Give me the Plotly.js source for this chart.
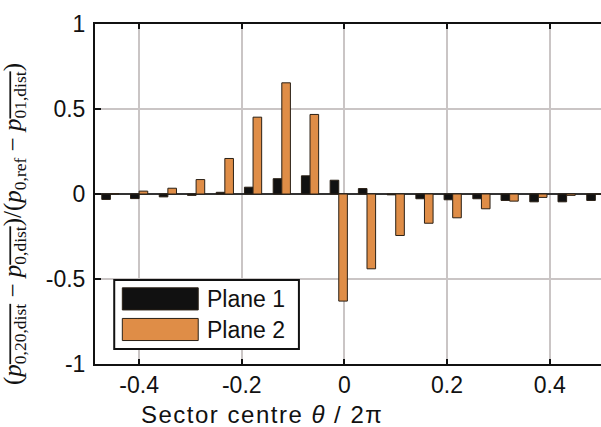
<!DOCTYPE html>
<html>
<head>
<meta charset="utf-8">
<script src="https://cdn.plot.ly/plotly-3.0.1.min.js"></script>
<style>
html,body{margin:0;padding:0;background:#fff;overflow:hidden;}
#chart{width:601px;height:427px;}
</style>
</head>
<body>
<div id="chart"></div>
<script>
// Sector centres (theta / 2pi)
const sectorCentre = [-0.456, -0.400, -0.344, -0.289, -0.233, -0.178, -0.122, -0.067, -0.011,
                      0.044, 0.100, 0.156, 0.211, 0.267, 0.322, 0.378, 0.433, 0.489];
// Plane 1 values
const plane1 = [-0.032, -0.027, -0.017, -0.008, 0.010, 0.040, 0.090, 0.107, 0.081,
                0.032, -0.005, -0.028, -0.034, -0.028, -0.038, -0.046, -0.046, -0.038];
// Plane 2 values
const plane2 = [0.002, 0.017, 0.034, 0.085, 0.209, 0.452, 0.654, 0.468, -0.630,
                -0.440, -0.244, -0.172, -0.140, -0.087, -0.042, -0.020, -0.008, 0.000];
const seriesNames = ['Plane 1', 'Plane 2'];
const xTickVals = [-0.4, -0.2, 0, 0.2, 0.4];
const xTickText = ['-0.4', '-0.2', '0', '0.2', '0.4'];
const yTickVals = [-1, -0.5, 0, 0.5, 1];
const yTickText = ['-1', '-0.5', '0', '0.5', '1'];

const black = '#111111';
const orange = '#df8d47';
const edge = '#2a2016';

const traces = [
  {type: 'bar', x: sectorCentre, y: plane1, name: seriesNames[0],
   marker: {color: black, line: {color: edge, width: 1}}},
  {type: 'bar', x: sectorCentre, y: plane2, name: seriesNames[1],
   marker: {color: orange, line: {color: edge, width: 1}}}
];

const tickFont = {family: 'Liberation Sans, Arial, sans-serif', size: 23, color: '#111'};
const ol = s => '<span style="text-decoration:overline">' + s + '</span>';
const yTitle = '(' + ol('<i>p</i><sub>0,20,dist</sub>') + ' − ' + ol('<i>p</i><sub>0,dist</sub>') +
  ')/(' + '<i>p</i><sub>0,ref</sub>' + ' − ' + ol('<i>p</i><sub>01,dist</sub>') + ')';

// legend geometry in paper coordinates
const lg = {x0: 0.038, x1: 0.403, y0: 0.044, y1: 0.247};
const sw = {x0: 0.054, x1: 0.204};

const layout = {
  width: 601, height: 427,
  margin: {l: 95, r: 0, t: 24, b: 63},
  paper_bgcolor: '#ffffff', plot_bgcolor: '#ffffff',
  barmode: 'group', bargap: 0.39, bargroupgap: 0,
  showlegend: false,
  xaxis: {
    range: [-0.486, 0.5], tickvals: xTickVals, ticktext: xTickText,
    tickfont: tickFont, ticks: 'inside', ticklen: 5, tickwidth: 2, tickcolor: '#111',
    showline: true, linecolor: '#111', linewidth: 2, mirror: 'ticks',
    showgrid: true, gridcolor: '#cac5c5', gridwidth: 2, zeroline: false,
    ticklabelstandoff: -1
  },
  yaxis: {
    range: [-1, 1], tickvals: yTickVals, ticktext: yTickText,
    tickfont: tickFont, ticks: 'inside', ticklen: 6, tickwidth: 2, tickcolor: '#111',
    showline: true, linecolor: '#111', linewidth: 2, mirror: false,
    showgrid: true, gridcolor: '#cac5c5', gridwidth: 2,
    zeroline: true, zerolinecolor: '#333', zerolinewidth: 1.5,
    ticklabelstandoff: 3
  },
  shapes: [
    {type: 'rect', xref: 'paper', yref: 'paper', x0: lg.x0, x1: lg.x1, y0: lg.y0, y1: lg.y1,
     fillcolor: '#ffffff', line: {color: '#111', width: 2}, layer: 'above'},
    {type: 'rect', xref: 'paper', yref: 'paper', x0: sw.x0, x1: sw.x1, y0: 0.159, y1: 0.224,
     fillcolor: black, line: {color: edge, width: 1}, layer: 'above'},
    {type: 'rect', xref: 'paper', yref: 'paper', x0: sw.x0, x1: sw.x1, y0: 0.069, y1: 0.134,
     fillcolor: orange, line: {color: edge, width: 1}, layer: 'above'}
  ],
  annotations: [
    {xref: 'paper', yref: 'paper', x: 0.218, y: 0.191, xanchor: 'left', yanchor: 'middle',
     text: seriesNames[0], showarrow: false, font: {family: 'Liberation Sans, Arial, sans-serif', size: 23, color: '#111'}},
    {xref: 'paper', yref: 'paper', x: 0.218, y: 0.101, xanchor: 'left', yanchor: 'middle',
     text: seriesNames[1], showarrow: false, font: {family: 'Liberation Sans, Arial, sans-serif', size: 23, color: '#111'}},
    {xref: 'paper', yref: 'paper', x: 0.331, y: -0.148, xanchor: 'center', yanchor: 'middle',
     text: '<span style="letter-spacing:1.5px">Sector centre <i>θ</i> / 2π</span>', showarrow: false,
     font: {family: 'Liberation Sans, Arial, sans-serif', size: 24, color: '#111'}},
    {xref: 'paper', yref: 'paper', x: -0.158, y: 0.412, xanchor: 'center', yanchor: 'middle',
     textangle: -90, text: yTitle, showarrow: false,
     font: {family: 'Liberation Serif, DejaVu Serif, serif', size: 25, color: '#111'}}
  ]
};

Plotly.newPlot('chart', traces, layout, {staticPlot: true, displayModeBar: false});
</script>
</body>
</html>
